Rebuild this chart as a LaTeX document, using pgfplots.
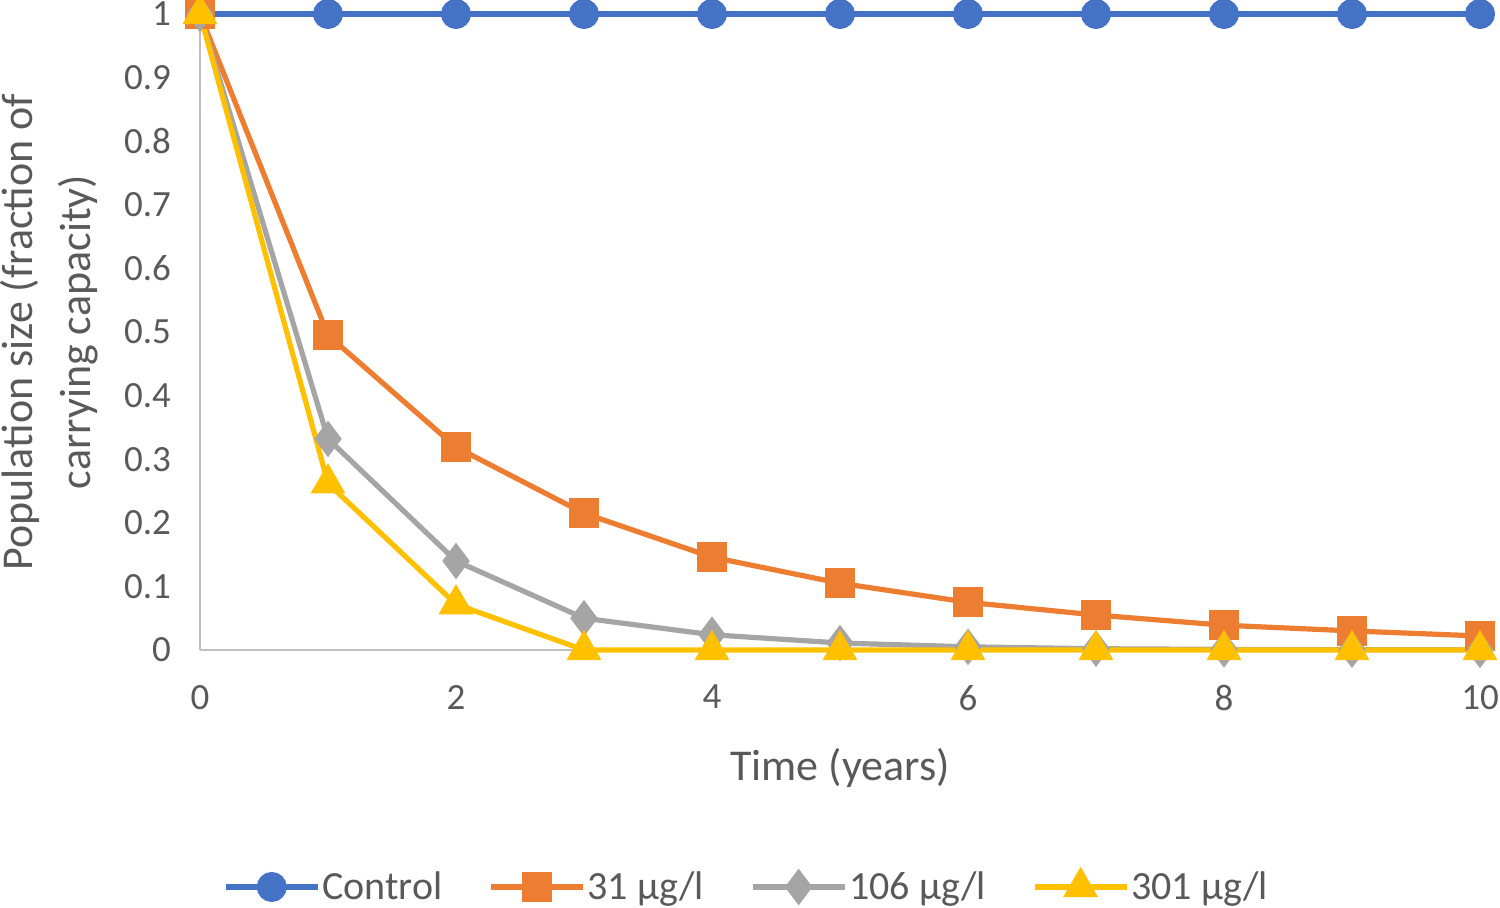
\documentclass[border=0pt]{standalone}
\usepackage{pgfplots}
\pgfplotsset{compat=1.18}
\usepackage{fontspec}
\setmainfont{Carlito}
\definecolor{cblue}{HTML}{4472C4}
\definecolor{corange}{HTML}{ED7D31}
\definecolor{cgray}{HTML}{A5A5A5}
\definecolor{cyellow}{HTML}{FFC000}
\definecolor{ctext}{HTML}{595959}
\definecolor{caxis}{HTML}{BFBFBF}
\begin{document}
\begin{tikzpicture}
\begin{axis}[
  name=ax,
  scale only axis,
  width=640pt, height=318pt,
  xmin=0, xmax=10, ymin=0, ymax=1,
  clip=false,
  axis x line*=bottom, axis y line*=left,
  axis line style={draw=caxis, line width=1.3pt, -},
  major tick length=0pt,
  xtick={0,2,...,10},
  ytick={0,0.1,...,1.0},
  /pgf/number format/assume math mode=true,
  /pgf/number format/fixed,
  /pgf/number format/precision=1,
  tick label style={font=\fontsize{18.5}{22}\selectfont, text=ctext},
  yticklabel style={xshift=-11pt},
  xticklabel style={yshift=-14pt},
  xlabel={Time (years)},
  xlabel style={at={(axis description cs:0.5,-0.1855)}, anchor=center, font=\fontsize{22}{27}\selectfont, text=ctext},
  ylabel={Population size (fraction of\\carrying capacity)},
  ylabel style={at={(axis description cs:-0.118,0.5)}, anchor=center, align=center, font=\fontsize{22}{29}\selectfont, text=ctext},
  legend columns=4,
  legend style={at={(axis description cs:0.427,-0.3726)}, anchor=center, draw=none, fill=none,
    font=\fontsize{20}{24}\selectfont, text=ctext,
    /tikz/every even column/.append style={column sep=22pt},
    nodes={inner sep=1pt}},
  legend image code/.code={\draw[mark repeat=2,mark phase=2] plot coordinates {(0pt,0pt) (23pt,0pt) (46pt,0pt)};},
  every axis plot/.append style={line width=2.6pt},
]
\addplot[cblue, mark=*, mark size=6.2pt, mark options={solid, fill=cblue}] coordinates {
(0,1) (1,1) (2,1) (3,1) (4,1) (5,1) (6,1) (7,1) (8,1) (9,1) (10,1)};
\addlegendentry{Control}
\addplot[corange, mark=square*, mark size=6.2pt, mark options={solid, fill=corange}] coordinates {
(0,1) (1,0.495) (2,0.319) (3,0.215) (4,0.146) (5,0.105) (6,0.075) (7,0.055) (8,0.039) (9,0.030) (10,0.022)};
\addlegendentry{31 µg/l}
\addplot[cgray, mark=diamond*, mark size=7pt, mark options={solid, fill=cgray}] coordinates {
(0,1) (1,0.332) (2,0.140) (3,0.050) (4,0.024) (5,0.011) (6,0.005) (7,0.002) (8,0.001) (9,0.0005) (10,0.0002)};
\addlegendentry{106 µg/l}
\addplot[cyellow, mark=triangle*, mark size=7.5pt, mark options={solid, fill=cyellow}] coordinates {
(0,1) (1,0.262) (2,0.072) (3,0) (4,0) (5,0) (6,0) (7,0) (8,0) (9,0) (10,0)};
\addlegendentry{301 µg/l}
\end{axis}
\pgfresetboundingbox
\path ([shift={(-100pt,-128.5pt)}]ax.south west) rectangle ([shift={(10pt,7pt)}]ax.north east);
\end{tikzpicture}
\end{document}
